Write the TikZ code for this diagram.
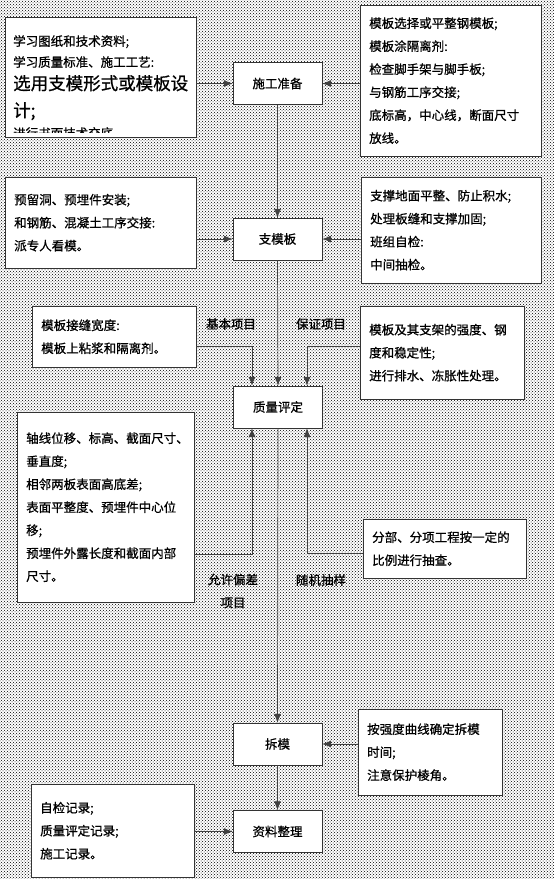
\documentclass[tikz,border=0pt]{standalone}
\usepackage{fontspec}
\setmainfont{Noto Sans CJK SC}[FakeBold=0.8]
\usepackage{tikz}
\usetikzlibrary{arrows.meta, positioning, calc, patterns}
\newcommand{\boxfont}{\fontsize{12.5}{23}\selectfont}
\newcommand{\bigfont}{\fontsize{17.5}{24}\selectfont}
\tikzset{
  stepbox/.style={draw=black!80, fill=white, minimum width=89pt, minimum height=42pt, font=\boxfont},
  infobox/.style={draw=black!80, fill=white, anchor=north west, align=left, inner xsep=9pt, font=\boxfont},
  tag/.style={font=\boxfont, align=center, inner sep=1pt},
  arr/.style={-{Latex[length=9pt, width=7pt]}, draw=black!75, line width=0.7pt},
}

\begin{document}
\begin{tikzpicture}[x=1pt, y=-1pt]
  \useasboundingbox (0,0) rectangle (554,879);
  \fill[white] (0,0) rectangle (554,879);
  \fill[pattern=crosshatch dots, pattern color=black] (0,0) rectangle (554,879);

  % main steps
  \node[stepbox] (prep) at (277.5,83.5) {施工准备};
  \node[stepbox] (support) at (277.5,239) {支模板};
  \node[stepbox] (check) at (278,407) {质量评定};
  \node[stepbox] (strip) at (277.5,744) {拆模};
  \node[stepbox] (records) at (277.5,831.5) {资料整理};

  % notes beside each step
  \node[infobox, text width=173pt, minimum height=120pt] (prepL) at (5,17) {};
  \begin{scope}
    \clip (prepL.north west) rectangle ([yshift=5pt]prepL.south east);
    \node[anchor=north west, align=left, inner sep=0pt, font=\fontsize{12.5}{21}\selectfont] (prepT) at (13,35)
      {学习图纸和技术资料;\\学习质量标准、施工工艺:\\[2pt]{\bigfont 选用支模形式或模板设}\\[6pt]{\bigfont 计;}\\进行书面技术交底};
  \end{scope}
  \node[infobox, text width=163pt, minimum height=151pt] (prepR) at (360,5)
    {模板选择或平整钢模板;\\模板涂隔离剂:\\检查脚手架与脚手板;\\与钢筋工序交接;\\底标高，中心线，断面尺寸\\放线。};
  \node[infobox, text width=173pt, minimum height=91pt] (formL) at (5,177)
    {预留洞、预埋件安装;\\和钢筋、混凝土工序交接:\\派专人看模。};
  \node[infobox, text width=162pt, minimum height=106pt] (formR) at (361,177)
    {支撑地面平整、防止积水;\\处理板缝和支撑加固;\\班组自检:\\中间抽检。};
  \node[infobox, text width=146pt, minimum height=61pt] (evalL) at (32,306)
    {模板接缝宽度:\\模板上粘浆和隔离剂。};
  \node[infobox, text width=146pt, minimum height=93pt] (evalR) at (360,306)
    {模板及其支架的强度、钢\\度和稳定性;\\进行排水、冻胀性处理。};
  \node[infobox, text width=159pt, minimum height=190pt] (evalLL) at (17,412)
    {轴线位移、标高、截面尺寸、\\垂直度;\\相邻两板表面高底差;\\表面平整度、预埋件中心位\\移;\\预埋件外露长度和截面内部\\尺寸。};
  \node[infobox, text width=145pt, minimum height=59pt] (evalRR) at (363,519)
    {分部、分项工程按一定的\\比例进行抽查。};
  \node[infobox, text width=126pt, minimum height=86pt] (stripR) at (358,709)
    {按强度曲线确定拆模\\时间;\\注意保护棱角。};
  \node[infobox, text width=145pt, minimum height=93pt] (docL) at (31,784)
    {自检记录;\\质量评定记录;\\施工记录。};

  % item labels
  \node[tag] (basic) at (231,324) {基本项目};
  \node[tag] (guar) at (321,324) {保证项目};
  \node[tag] (tol) at (233,591) {允许偏差\\项目};
  \node[tag] (rand) at (321,580) {随机抽样};

  % connectors
  \draw[arr] (prepL.east |- prep) -- (prep.west);
  \draw[arr] (prepR.west |- prep) -- (prep.east);
  \draw[arr] (prep.south) -- (support.north);
  \draw[arr] (formL.east |- support) -- (support.west);
  \draw[arr] (formR.west |- support) -- (support.east);
  \draw[arr] (support.south) -- (check.north);
  \draw[arr] ([yshift=-9.5pt]evalL.east) -| ([xshift=-26pt]check.north);
  \draw[arr] ([yshift=6.5pt]evalR.west) -| ([xshift=29pt]check.north);
  \draw[arr] ([yshift=-47pt]evalLL.east) -| ([xshift=-26pt]check.south);
  \draw[arr] ([yshift=-4.5pt]evalRR.west) -| ([xshift=29pt]check.south);
  \draw[arr] (check.south) -- (strip.north);
  \draw[arr] (stripR.west |- strip) -- (strip.east);
  \draw[arr] (strip.south) -- (records.north);
  \draw[arr] (docL.east |- records) -- (records.west);
\end{tikzpicture}
\end{document}
